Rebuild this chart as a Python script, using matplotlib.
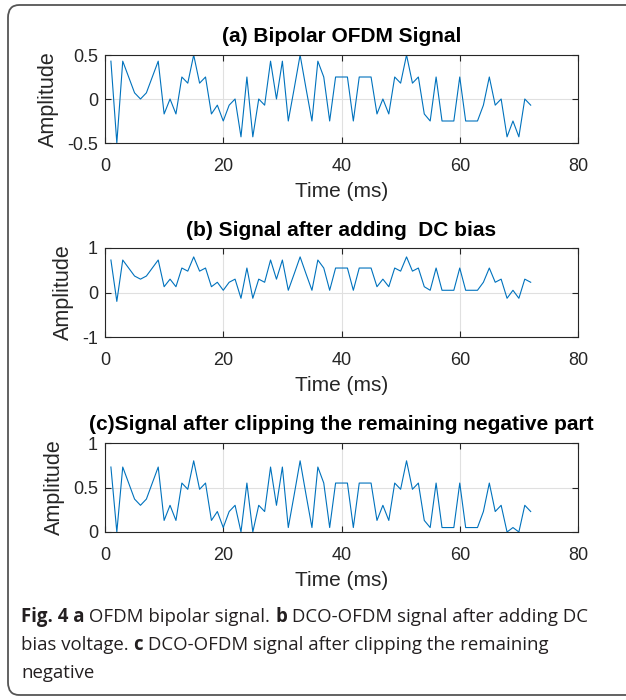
import matplotlib
matplotlib.use("Agg")
import matplotlib.pyplot as plt
from matplotlib.patches import FancyBboxPatch

# sample index (ms)
t = list(range(1, 73))

# (a) bipolar OFDM signal
sig_a = [0.43, -0.5, 0.43, 0.25, 0.07, 0.0, 0.07, 0.25, 0.43, -0.17,
         0.0, -0.17, 0.25, 0.18, 0.5, 0.18, 0.25, -0.17, -0.07, -0.25,
         -0.07, 0.0, -0.43, 0.25, -0.43, 0.0, -0.07, 0.43, 0.0, 0.43,
         -0.25, 0.12, 0.5, 0.12, -0.25, 0.43, 0.25, -0.25, 0.25, 0.25,
         0.25, -0.25, 0.25, 0.25, 0.25, -0.17, 0.0, -0.17, 0.25, 0.18,
         0.5, 0.18, 0.25, -0.17, -0.25, 0.25, -0.25, -0.25, -0.25, 0.25,
         -0.25, -0.25, -0.25, -0.07, 0.25, -0.07, 0.0, -0.43, -0.25, -0.43,
         0.0, -0.07]

# (b) after adding DC bias
sig_b = [0.73, -0.2, 0.73, 0.55, 0.37, 0.3, 0.37, 0.55, 0.73, 0.13,
         0.3, 0.13, 0.55, 0.48, 0.8, 0.48, 0.55, 0.13, 0.23, 0.05,
         0.23, 0.3, -0.13, 0.55, -0.13, 0.3, 0.23, 0.73, 0.3, 0.73,
         0.05, 0.42, 0.8, 0.42, 0.05, 0.73, 0.55, 0.05, 0.55, 0.55,
         0.55, 0.05, 0.55, 0.55, 0.55, 0.13, 0.3, 0.13, 0.55, 0.48,
         0.8, 0.48, 0.55, 0.13, 0.05, 0.55, 0.05, 0.05, 0.05, 0.55,
         0.05, 0.05, 0.05, 0.23, 0.55, 0.23, 0.3, -0.13, 0.05, -0.13,
         0.3, 0.23]

# (c) after clipping negative part
sig_c = [0.73, 0.0, 0.73, 0.55, 0.37, 0.3, 0.37, 0.55, 0.73, 0.13,
         0.3, 0.13, 0.55, 0.48, 0.8, 0.48, 0.55, 0.13, 0.23, 0.05,
         0.23, 0.3, 0.0, 0.55, 0.0, 0.3, 0.23, 0.73, 0.3, 0.73,
         0.05, 0.42, 0.8, 0.42, 0.05, 0.73, 0.55, 0.05, 0.55, 0.55,
         0.55, 0.05, 0.55, 0.55, 0.55, 0.13, 0.3, 0.13, 0.55, 0.48,
         0.8, 0.48, 0.55, 0.13, 0.05, 0.55, 0.05, 0.05, 0.05, 0.55,
         0.05, 0.05, 0.05, 0.23, 0.55, 0.23, 0.3, 0.0, 0.05, 0.0,
         0.3, 0.23]

titles = ["(a) Bipolar OFDM Signal",
          "(b) Signal after adding  DC bias",
          "(c)Signal after clipping the remaining negative part"]
ylims = [(-0.5, 0.5), (-1, 1), (0, 1)]
yticks = [[-0.5, 0, 0.5], [-1, 0, 1], [0, 0.5, 1]]
yticklabels = [["-0.5", "0", "0.5"], ["-1", "0", "1"], ["0", "0.5", "1"]]
xticks = [0, 20, 40, 60, 80]

W, H = 626, 700
fig = plt.figure(figsize=(W / 100, H / 100), dpi=100)
fig.patch.set_facecolor("white")

# rounded frame around figure + caption
frame = FancyBboxPatch((8 / W, 5 / H), 660 / W, 690 / H,
                       boxstyle="round,pad=0,rounding_size=0.018",
                       transform=fig.transFigure, fc="none", ec="#555555",
                       lw=1.3, clip_on=False)
fig.patches.append(frame)

fnt = "Liberation Sans"
tick_col = "#262626"
# axes boxes in pixels: (top, bottom)
boxes = [(55, 143), (248, 337), (443, 532)]
left_px, right_px = 105, 578

for i, sig in enumerate([sig_a, sig_b, sig_c]):
    top, bot = boxes[i]
    ax = fig.add_axes([left_px / W, 1 - bot / H, (right_px - left_px) / W, (bot - top) / H])
    ax.plot(t, sig, color="#0072BD", lw=0.8)
    ax.set_xlim(0, 80)
    ax.set_ylim(*ylims[i])
    ax.set_xticks(xticks)
    ax.set_xticklabels([str(x) for x in xticks], fontfamily=fnt, fontsize=13, color=tick_col)
    ax.set_yticks(yticks[i])
    ax.set_yticklabels(yticklabels[i], fontfamily=fnt, fontsize=13, color=tick_col)
    ax.tick_params(direction="in", length=4, width=0.8, color=tick_col,
                   top=True, right=True)
    ax.tick_params(axis="x", pad=11)
    ax.tick_params(axis="y", pad=5)
    ax.grid(True, color="#e0e0e0", lw=0.8)
    ax.set_axisbelow(True)
    for s in ax.spines.values():
        s.set_color(tick_col)
        s.set_linewidth(0.8)
    ax.set_title(titles[i], fontfamily=fnt, fontsize=15, fontweight="bold", pad=9)
    ax.set_xlabel("Time (ms)", fontfamily=fnt, fontsize=15, color=tick_col, labelpad=5)
    ax.set_ylabel("Amplitude", fontfamily=fnt, fontsize=15.5, color=tick_col, labelpad=6)

# caption with mixed bold / regular runs
cap_font = "Open Sans"
cap_size = 13.4
lines = [
    [("Fig. 4 a", True), (" OFDM bipolar signal. ", False), ("b", True),
     (" DCO-OFDM signal after adding DC", False)],
    [("bias voltage. ", False), ("c", True),
     (" DCO-OFDM signal after clipping the remaining", False)],
    [("negative", False)],
]
line_y = [617, 645, 673]
renderer = fig.canvas.get_renderer()
for runs, yp in zip(lines, line_y):
    x = 21
    for txt, bold in runs:
        tt = fig.text(x / W, 1 - yp / H, txt, fontfamily=cap_font, fontsize=cap_size,
                      fontweight="bold" if bold else "normal", color="#231f20",
                      va="center", ha="left")
        bb = tt.get_window_extent(renderer=renderer)
        x += bb.width

fig.savefig("out.png", dpi=100, facecolor="white")
